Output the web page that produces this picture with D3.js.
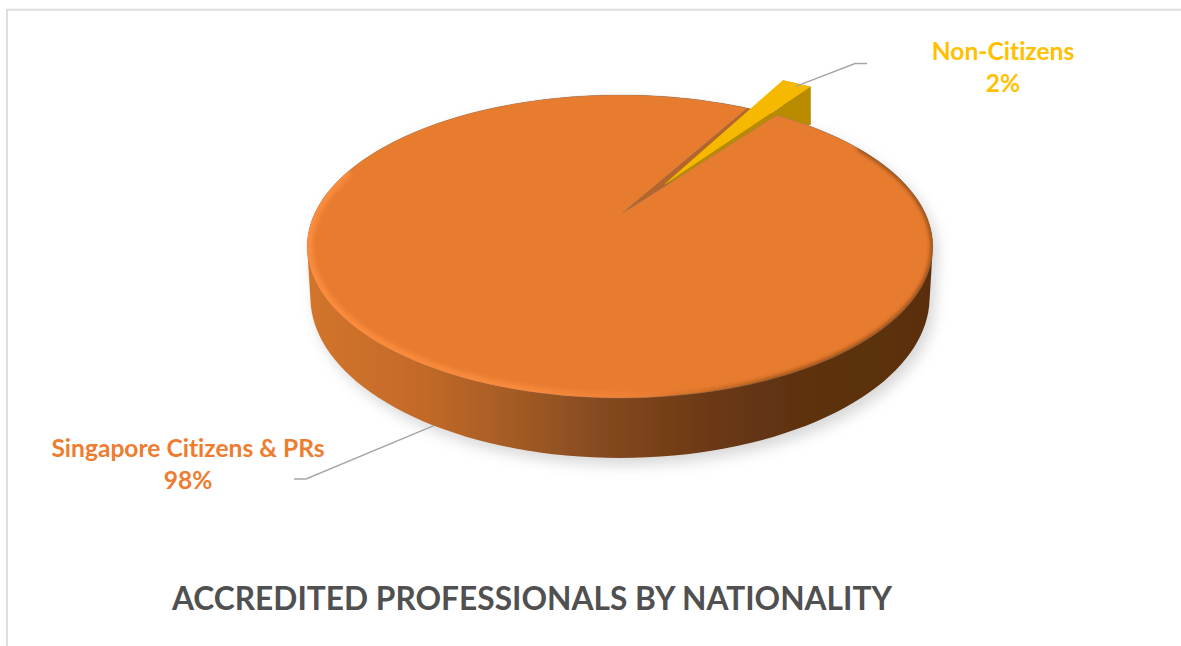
<!DOCTYPE html>
<html><head><meta charset="utf-8">
<script src="https://cdn.jsdelivr.net/npm/d3@7"></script>
<style>html,body{margin:0;padding:0;background:#fff}svg{display:block}text{font-variant-ligatures:none}</style>
</head><body><svg id="c" width="1181" height="646"></svg>
<script>
const categories = ["Non-Citizens", "Singapore Citizens & PRs"];
const values = [2, 98];
const percentLabels = ["2%", "98%"];
const title = "ACCREDITED PROFESSIONALS BY NATIONALITY";
const textColors = ["#FFC000", "#ED7D31"];
const topColors = ["#F6B900", "#E77B2F"];

const svg = d3.select("#c");
const defs = svg.append("defs");
// frame
svg.append("path").attr("d","M7 646V9.8H1181").attr("fill","none").attr("stroke","#dcdcdc").attr("stroke-width",1.9);

// Perspective projection of the pie's unit disc onto the screen
const k=-0.221, A=97, B=213, C=305, CX=620, MIDY=246.5;
const proj=(u,v,dy=0,sx=1,sy=1)=>{const w=1+k*v;const x=C*u/w,y=(A*v+B)/w;
  return [CX+x*sx,MIDY+(y-MIDY)*sy+dy];};
const pol=(a,r=1)=>[r*Math.sin(a),-r*Math.cos(a)];
const START=29.9*Math.PI/180;
const arcs=d3.pie().sort(null).startAngle(START).endAngle(START+2*Math.PI)(values);
const gold=arcs[0], org=arcs[1];
const line=d3.line();
const arcPts=(a0,a1,dy=0,sx=1,sy=1,off=[0,0])=>d3.range(0,181).map(i=>{
  const a=a0+(a1-a0)*i/180;const p=pol(a);return proj(p[0]+off[0],p[1]+off[1],dy,sx,sy);});
const DEPTH=50.5, BSX=0.99, BSY=161/151.5;

// gradients and filters
const grad=defs.append("linearGradient").attr("id","side").attr("gradientUnits","userSpaceOnUse")
 .attr("x1",307).attr("x2",932).attr("y1",0).attr("y2",0);
[[0,"#d2742b"],[.18,"#c46a28"],[.34,"#a25a24"],[.47,"#854a20"],[.63,"#6d3a14"],[.79,"#5d3211"],[1,"#5a2f10"]]
 .forEach(s=>grad.append("stop").attr("offset",s[0]).attr("stop-color",s[1]));
const rim=defs.append("linearGradient").attr("id","rim").attr("gradientUnits","userSpaceOnUse")
 .attr("x1",307).attr("x2",932).attr("y1",0).attr("y2",0);
[[0,"#fb8c3c",1],[.35,"#f98a3b",.95],[.52,"#f28438",.6],[.62,"#e77b2f",0],[1,"#e77b2f",0]]
 .forEach(s=>rim.append("stop").attr("offset",s[0]).attr("stop-color",s[1]).attr("stop-opacity",s[2]));
const dark=defs.append("linearGradient").attr("id","dark").attr("gradientUnits","userSpaceOnUse")
 .attr("x1",307).attr("x2",932).attr("y1",0).attr("y2",0);
[[0,"#5a2f10",0],[.55,"#5a2f10",0],[.75,"#5a2f10",.8],[1,"#5a2f10",.9]]
 .forEach(s=>dark.append("stop").attr("offset",s[0]).attr("stop-color",s[1]).attr("stop-opacity",s[2]));
const blur=(id,s)=>defs.append("filter").attr("id",id).attr("x","-10%").attr("y","-10%").attr("width","120%").attr("height","120%")
 .append("feGaussianBlur").attr("stdDeviation",s);
blur("sh",7);blur("b2",2.2);blur("b1",0.6);

const full=arcPts(0,2*Math.PI);
const bottom=arcPts(0,2*Math.PI,DEPTH,BSX,BSY);
const hull=d3.polygonHull(full.concat(bottom));

// soft shadow
svg.append("path").attr("d",line(hull)+"Z").attr("transform","translate(5,7)").attr("fill","#bdbdbd").attr("opacity",.6).attr("filter","url(#sh)");
const pie=svg.append("g").attr("filter","url(#b1)");
// wall
pie.append("path").attr("d",line(hull)+"Z").attr("fill","url(#side)");

// exploded slice
const goldMid=(gold.startAngle+gold.endAngle)/2;
const off=pol(goldMid-0.05,0.337);
const gEdge=arcPts(gold.startAngle,gold.endAngle,0,1,1,off);
const gBot=arcPts(gold.startAngle,gold.endAngle,38,1,1,off);
const tipG=proj(off[0]*.87,off[1]*.7);
const apex=[proj(0,0)[0]+2.5,proj(0,0)[1]];
const oRim=arcPts(org.startAngle,org.endAngle);

// wall of the cut seen through the gap
pie.append("path").attr("d",line([apex,oRim[180],oRim[0]])+"Z").attr("fill","#B4652B");
// gold walls and top
pie.append("path").attr("d",line([gEdge[0],gEdge[180],gBot[180],gBot[0]])+"Z").attr("fill","#B98C00");
pie.append("path").attr("d",line([gEdge[180],tipG,gBot[180]])+"Z").attr("fill","#B98C00");
pie.append("path").attr("d",line([tipG].concat(gEdge))+"Z").attr("fill",topColors[0]);

// orange top surface
const topPath=line([apex].concat(oRim))+"Z";
defs.append("clipPath").attr("id","topClip").append("path").attr("d",topPath);
pie.append("path").attr("d",topPath).attr("fill",topColors[1]).attr("stroke","#8a8078").attr("stroke-width",.6).attr("stroke-opacity",.6);
const g=pie.append("g").attr("clip-path","url(#topClip)");
const rimPts=arcPts(150*Math.PI/180,288*Math.PI/180);
g.append("path").attr("d",line(rimPts)).attr("fill","none").attr("stroke","url(#rim)").attr("stroke-width",11).attr("filter","url(#b2)");
const edgePts=arcPts(60*Math.PI/180,190*Math.PI/180);
g.append("path").attr("d",line(edgePts)).attr("fill","none").attr("stroke","url(#dark)").attr("stroke-width",3).attr("filter","url(#b2)");

// leaders
const l0=proj(pol(goldMid)[0]+off[0],pol(goldMid)[1]+off[1]);
const pb=pol((org.startAngle+org.endAngle)/2-0.063);
const l1=proj(pb[0],pb[1],DEPTH,BSX,BSY);
const leader=d3.line();
const ls={fill:"none",stroke:"#a6a6a6","stroke-width":1.4};
const lp1=svg.append("path").attr("d",leader([[l0[0]-1,l0[1]+3],[855,63.5],[867,63.5]]));
const lp2=svg.append("path").attr("d",leader([[l1[0],l1[1]],[306,479],[294,479]]));
[lp1,lp2].forEach(p=>Object.entries(ls).forEach(([a,v])=>p.attr(a,v)));

// labels
const font="Lato, Carlito, sans-serif";
const lab=(x,y,t,c)=>svg.append("text").attr("x",x).attr("y",y).attr("text-anchor","middle").attr("font-family",font).attr("font-weight",700).attr("font-size",24.6).attr("fill",c).text(t);
lab(1003,60,categories[0],textColors[0]);
lab(1003,92,percentLabels[0],textColors[0]);
lab(188,457,categories[1],textColors[1]);
lab(188,489,percentLabels[1],textColors[1]);
svg.append("text").attr("x",532).attr("y",610).attr("text-anchor","middle").attr("font-family",font).attr("font-weight",700).attr("font-size",31.7).attr("fill","#505050").text(title);
</script></body></html>
